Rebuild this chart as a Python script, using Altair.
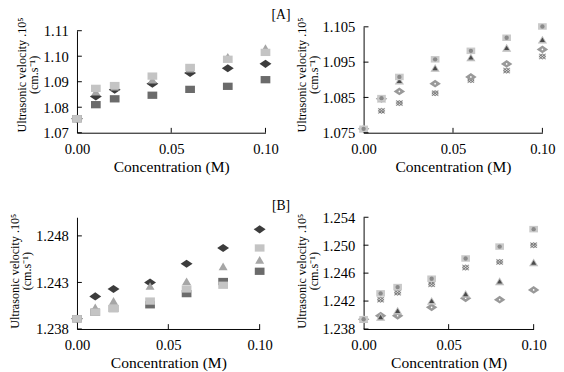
import altair as alt
import pandas as pd

conc = [0.0, 0.01, 0.02, 0.04, 0.06, 0.08, 0.10]

# Panel A (left) - solid markers
a_left_diamond = [1.0755, 1.0842, 1.0869, 1.0892, 1.0934, 1.0953, 1.0970]
a_left_dsquare = [1.0755, 1.0810, 1.0833, 1.0847, 1.0870, 1.0882, 1.0908]
a_left_triangle = [1.0755, 1.0860, 1.0880, 1.0907, 1.0950, 1.0997, 1.1031]
a_left_lsquare = [1.0755, 1.0874, 1.0885, 1.0922, 1.0956, 1.0988, 1.1015]

# Panel A (right) - patterned markers
a_right_square = [1.0761, 1.0848, 1.0908, 1.0958, 1.0982, 1.1019, 1.1051]
a_right_triangle = [1.0761, 1.0846, 1.0897, 1.0933, 1.0963, 1.0990, 1.1013]
a_right_diamond = [1.0761, 1.0846, 1.0867, 1.0889, 1.0908, 1.0945, 1.0986]
a_right_xhatch = [1.0761, 1.0812, 1.0834, 1.0862, 1.0899, 1.0926, 1.0966]

# Panel B (left)
b_left_diamond = [1.2391, 1.2415, 1.2423, 1.2430, 1.2450, 1.2467, 1.2487]
b_left_dsquare = [1.2391, 1.2398, 1.2402, 1.2406, 1.2418, 1.2431, 1.2442]
b_left_triangle = [1.2391, 1.2403, 1.2410, 1.2426, 1.2431, 1.2447, 1.2454]
b_left_lsquare = [1.2391, 1.2398, 1.2402, 1.2410, 1.2423, 1.2427, 1.2467]

# Panel B (right)
b_right_square = [1.2394, 1.2431, 1.2440, 1.2452, 1.2481, 1.2498, 1.2523]
b_right_xhatch = [1.2394, 1.2422, 1.2432, 1.2444, 1.2468, 1.2476, 1.2500]
b_right_triangle = [1.2394, 1.2397, 1.2406, 1.2420, 1.2430, 1.2448, 1.2475]
b_right_diamond = [1.2394, 1.2399, 1.2399, 1.2411, 1.2424, 1.2422, 1.2436]

x_ticks = [0.0, 0.05, 0.10]
a_left_yticks = [1.07, 1.08, 1.09, 1.10, 1.11]
a_right_yticks = [1.075, 1.085, 1.095, 1.105]
b_left_yticks = [1.238, 1.243, 1.248]
b_right_yticks = [1.238, 1.242, 1.246, 1.250, 1.254]

FONT = "Liberation Serif, Times New Roman, serif"
Y_TITLE = ["Ultrasonic velocity .10\u2075", "(cm.s\u207b\u00b9)"]

DIAMOND = "M-1,0L0,-0.68L1,0L0,0.68Z"
RECT = "M-1,-0.75H1V0.75H-1Z"
TRI = "M0,-0.9L1,0.8L-1,0.8Z"
XSHAPE = "M-1,-0.8L1,0.8M1,-0.8L-1,0.8M-1,0L0,-0.8L1,0L0,0.8Z"


def make_panel(series, yticks, ydom, yfmt, width, height, yrange, title_y, label=None):
    xs = alt.Scale(domain=[0, 0.10], nice=False, zero=False)
    ys = alt.Scale(domain=ydom, nice=False, zero=False, range=yrange)
    xenc = alt.X("c:Q", scale=xs, axis=alt.Axis(values=x_ticks, format=".2f",
                                                title="Concentration (M)"))
    yenc = alt.Y("v:Q", scale=ys, axis=alt.Axis(values=yticks, format=yfmt,
                                                title=Y_TITLE, titleY=title_y))
    layers = []
    for vals, marks in series:
        df = pd.DataFrame({"c": conc, "v": vals})
        for shape, size, color, stroked in marks:
            if stroked:
                mk = alt.Chart(df).mark_point(shape=shape, size=size, filled=False,
                                              stroke=color, opacity=1, strokeWidth=1)
            else:
                mk = alt.Chart(df).mark_point(shape=shape, size=size, filled=True,
                                              fill=color, opacity=1, strokeWidth=0)
            layers.append(mk.encode(x=xenc, y=yenc))
    # inside ticks
    ytdf = pd.DataFrame({"v": yticks})
    layers.append(alt.Chart(ytdf).mark_rule(color="black", strokeWidth=1)
                  .encode(y=yenc, x=alt.value(0), x2=alt.value(5)))
    xtdf = pd.DataFrame({"c": x_ticks[1:]})
    layers.append(alt.Chart(xtdf).mark_rule(color="black", strokeWidth=1)
                  .encode(x=xenc, y=alt.value(height), y2=alt.value(height - 5)))
    if label:
        ldf = pd.DataFrame({"t": [label]})
        layers.append(alt.Chart(ldf).mark_text(font=FONT, fontSize=14, color="black")
                      .encode(text="t:N", x=alt.value(210), y=alt.value(-11)))
    return alt.layer(*layers).properties(width=width, height=height)


LEFT = [
    ("diamond", [(DIAMOND, 150, "#3c3c3c", False)]),
    ("dsquare", [(RECT, 100, "#6b6b6b", False)]),
    ("triangle", [(TRI, 85, "#a6a6a6", False)]),
    ("lsquare", [(RECT, 100, "#c4c4c4", False)]),
]
RIGHT = [
    ("xhatch", [(RECT, 56, "#dcdcdc", False), (XSHAPE, 40, "#777777", True)]),
    ("diamond", [(DIAMOND, 140, "#999999", False), ("circle", 3, "#ffffff", False)]),
    ("triangle", [(TRI, 90, "#bdbdbd", False), (TRI, 28, "#4a4a4a", False)]),
    ("square", [(RECT, 80, "#cacaca", False), ("circle", 20, "#8a8a8a", False)]),
]

a_left = {"diamond": a_left_diamond, "dsquare": a_left_dsquare,
          "triangle": a_left_triangle, "lsquare": a_left_lsquare}
a_right = {"xhatch": a_right_xhatch, "diamond": a_right_diamond,
           "triangle": a_right_triangle, "square": a_right_square}
b_left = {"diamond": b_left_diamond, "dsquare": b_left_dsquare,
          "triangle": b_left_triangle, "lsquare": b_left_lsquare}
b_right = {"xhatch": b_right_xhatch, "diamond": b_right_diamond,
           "triangle": b_right_triangle, "square": b_right_square}

tl = make_panel([(a_left[k], m) for k, m in LEFT],
                a_left_yticks, [1.07, 1.11], ".2f", 194, 110, [110, 5], 50, label="[A]")
tr = make_panel([(a_right[k], m) for k, m in RIGHT],
                a_right_yticks, [1.075, 1.105], ".3f", 184, 110, [110, 1], 50)
bl = make_panel([(b_left[k], m) for k, m in LEFT],
                b_left_yticks, [1.238, 1.250], ".3f", 188, 115, [115, 0], 55, label="[B]")
br = make_panel([(b_right[k], m) for k, m in RIGHT],
                b_right_yticks, [1.238, 1.254], ".3f", 175, 115, [115, 0], 55)

chart = alt.concat(tl, tr, bl, br, columns=2, bounds="flush",
                   spacing={"row": 87, "column": 101}).properties(
    padding={"left": 0, "top": -5, "right": 0, "bottom": 0}
).configure_view(stroke=None).configure_axis(
    grid=False, domainColor="black", domainWidth=1, ticks=False,
    labelFont=FONT, labelFontSize=15, labelColor="black", labelPadding=9,
    titleFont=FONT, titleFontSize=12.5, titleFontWeight="normal", titleColor="black",
    titlePadding=2, titleLineHeight=12.5, labelFlush=False, labelOverlap=False,
).configure_axisX(titlePadding=3, titleFontSize=16)

chart.save("out.html", embed_options={"renderer": "svg", "actions": False})
